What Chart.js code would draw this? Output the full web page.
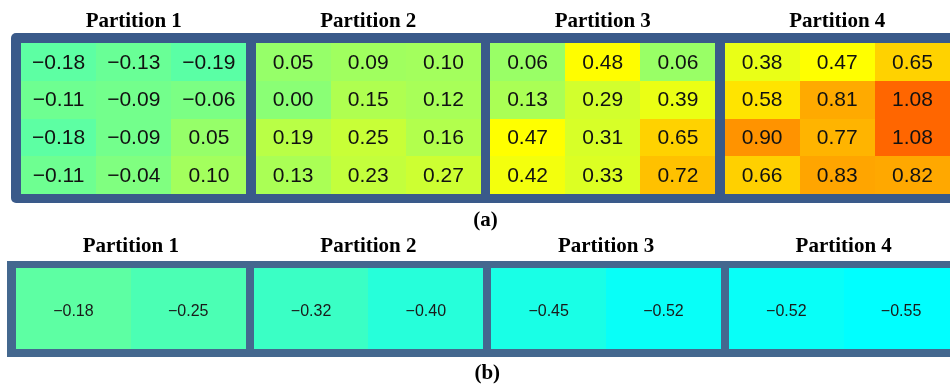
<!DOCTYPE html>
<html>
<head>
<meta charset="utf-8">
<script src="https://cdn.jsdelivr.net/npm/chart.js@4.4.1/dist/chart.umd.min.js"></script>
<style>
  html, body { margin: 0; padding: 0; background: #fff; }
  #wrap { position: relative; width: 950px; height: 385px; overflow: hidden; }
  canvas { position: absolute; left: 0; }
  #chartA { top: 0; }
  #chartB { top: 232px; }
</style>
</head>
<body>
<div id="wrap">
  <canvas id="chartA" width="950" height="232"></canvas>
  <canvas id="chartB" width="950" height="153"></canvas>
</div>
<script>
// partition titles (same for both panels)
const partitions = ['Partition 1', 'Partition 2', 'Partition 3', 'Partition 4'];

// panel (a): 4 rows x 3 columns per partition
const partA1 = [[-0.18, -0.13, -0.19], [-0.11, -0.09, -0.06], [-0.18, -0.09, 0.05], [-0.11, -0.04, 0.10]];
const partA2 = [[0.05, 0.09, 0.10], [0.00, 0.15, 0.12], [0.19, 0.25, 0.16], [0.13, 0.23, 0.27]];
const partA3 = [[0.06, 0.48, 0.06], [0.13, 0.29, 0.39], [0.47, 0.31, 0.65], [0.42, 0.33, 0.72]];
const partA4 = [[0.38, 0.47, 0.65], [0.58, 0.81, 1.08], [0.90, 0.77, 1.08], [0.66, 0.83, 0.82]];

// panel (b): 1 row x 2 columns per partition
const partB1 = [[-0.18, -0.25]];
const partB2 = [[-0.32, -0.40]];
const partB3 = [[-0.45, -0.52]];
const partB4 = [[-0.52, -0.55]];

const clamp = t => Math.max(0, Math.min(1, t));

// cyan -> yellow -> red, like the upper half of jet
function heatColor(v) {
  const lo = -0.55, mid = 0.47, hi = 1.49;
  let r, g, b;
  if (v <= mid) {
    const t = clamp((v - lo) / (mid - lo));
    r = 255 * t; g = 255; b = 255 * (1 - t);
  } else {
    const t = clamp((v - mid) / (hi - mid));
    r = 255; g = 255 * (1 - t); b = 0;
  }
  return `rgb(${Math.round(r)},${Math.round(g)},${Math.round(b)})`;
}

function fmt(v) {
  const s = Math.abs(v).toFixed(2);
  return v < 0 ? '\u2212' + s : s;
}

function buildCells(parts, cols, gap) {
  const pts = [];
  parts.forEach((rows, p) => {
    rows.forEach((row, r) => {
      row.forEach((v, c) => pts.push({ x: p * (cols + gap) + c, y: r, v: v }));
    });
  });
  return pts;
}

const heatPlugin = {
  id: 'heat',
  afterDraw(chart, args, o) {
    const { ctx, chartArea: area } = chart;
    const xs = chart.scales.x, ys = chart.scales.y;
    const pts = chart.data.datasets[0].data;
    ctx.save();

    // frame behind the cells, gaps between partitions show through
    ctx.fillStyle = o.frameColor;
    ctx.beginPath();
    ctx.roundRect(area.left - o.frame[0], area.top - o.frame[1],
      area.right - area.left + o.frame[0] + 20, area.bottom - area.top + o.frame[1] + o.frame[2], o.radius);
    ctx.fill();

    // cells
    pts.forEach(pt => {
      const x0 = Math.round(xs.getPixelForValue(pt.x));
      const x1 = Math.round(xs.getPixelForValue(pt.x + 1));
      const y0 = Math.round(ys.getPixelForValue(pt.y));
      const y1 = Math.round(ys.getPixelForValue(pt.y + 1));
      ctx.fillStyle = heatColor(pt.v);
      ctx.fillRect(x0, y0, x1 - x0, y1 - y0);
    });

    // cell values
    ctx.fillStyle = o.textColor;
    ctx.font = o.valueFont;
    ctx.textAlign = 'center';
    ctx.textBaseline = 'middle';
    pts.forEach(pt => {
      const cx = xs.getPixelForValue(pt.x + 0.5);
      const cy = ys.getPixelForValue(pt.y + 0.5) + o.valueShift;
      ctx.fillText(fmt(pt.v), cx, cy);
    });

    // partition titles + caption
    ctx.fillStyle = '#000';
    ctx.font = 'bold 21px "Liberation Serif", "Times New Roman", serif';
    ctx.textBaseline = 'alphabetic';
    partitions.forEach((name, p) => {
      const cx = xs.getPixelForValue(p * (o.cols + o.gap) + o.cols / 2);
      ctx.fillText(name, cx, o.titleY);
    });
    const capX = xs.getPixelForValue(2 * (o.cols + o.gap) - o.gap / 2);
    ctx.fillText(o.caption, capX, o.captionY);
    ctx.restore();
  }
};

function makeChart(id, parts, cols, gap, rows, xMax, padding, opts) {
  new Chart(document.getElementById(id), {
    type: 'scatter',
    data: { datasets: [{ data: buildCells(parts, cols, gap), pointRadius: 0 }] },
    options: {
      responsive: false,
      animation: false,
      devicePixelRatio: 1,
      layout: { padding: padding },
      scales: {
        x: { type: 'linear', min: 0, max: xMax, display: false },
        y: { type: 'linear', min: 0, max: rows, reverse: true, display: false }
      },
      plugins: {
        legend: { display: false },
        tooltip: { enabled: false },
        heat: Object.assign({ cols: cols, gap: gap }, opts)
      }
    },
    plugins: [heatPlugin]
  });
}

makeChart('chartA', [partA1, partA2, partA3, partA4], 3, 0.12, 4, 12.36,
  { left: 21, right: 0, top: 43, bottom: 38 },
  { frameColor: '#3a5a8a', frame: [10, 10, 9], radius: 5, textColor: '#111',
    valueFont: '21px "Liberation Sans", Arial, sans-serif', valueShift: 1,
    titleY: 27, caption: '(a)', captionY: 226 });

makeChart('chartB', [partB1, partB2, partB3, partB4], 2, 0.07, 1, 8.136,
  { left: 16, right: 0, top: 36, bottom: 36 },
  { frameColor: '#44688f', frame: [9, 7, 8], radius: 0, textColor: '#1a1a1a',
    valueFont: '16px "Liberation Sans", Arial, sans-serif', valueShift: 3,
    titleY: 20, caption: '(b)', captionY: 147 });
</script>
</body>
</html>
